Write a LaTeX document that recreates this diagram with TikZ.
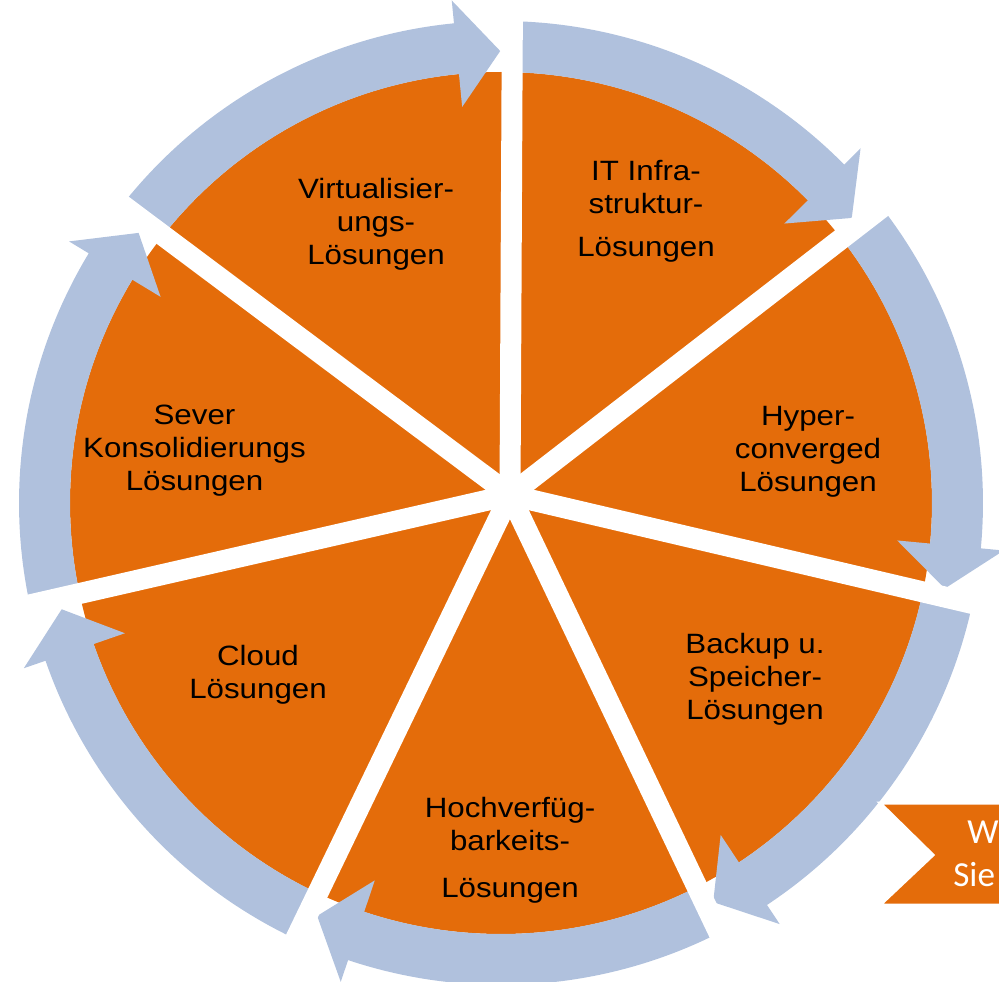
\documentclass[tikz,border=0pt]{standalone}
\usepackage{fontspec}
\setmainfont{Liberation Sans}
\newfontfamily\bannerfont{Carlito}
\usepackage{xcolor}
\usepackage{tikz}
\usetikzlibrary{calc}
\definecolor{zyk_orange}{HTML}{E46C0A}
\definecolor{zyk_blau}{HTML}{B0C1DD}
\tikzset{
  scheibe/.style = {fill=zyk_orange},% orange Scheibe, 7 Segmente
  ring_pf/.style = {fill=zyk_blau},% blauer Pfeil aussen
  spalt/.style = {draw=white, line width=4.2mm},% weisse Trennlinie
  beschr/.style = {align=center, inner sep=0pt, text=black, xscale=1.12,
    font=\fontsize{15.9}{18.7}\selectfont},% Text im Segment
  banner_n/.style = {fill=zyk_orange, draw=white, line width=0.6mm},% Pfeilband rechts unten
  banner_t/.style = {inner sep=0pt, anchor=base west, text=white,
    font=\bannerfont\fontsize{20}{24}\selectfont}
}

\begin{document}
\begin{tikzpicture}[x=0.2mm,y=0.2mm]
\useasboundingbox (-501,-478) rectangle (498,503);
\coordinate (O) at (0,0);
\coordinate (G) at (9,8);

\fill[scheibe] (O) circle[radius=431];

% Pfeile im Uhrzeigersinn, von Spalt zu Spalt
\foreach \a/\b in {142/88.8, 88.8/37.8, 37.8/-12.2, -12.2/-63.3,
                   -63.3/-115.3, -115.3/-167.7, -167.7/-218}{
  \pgfmathsetmacro\spitze{\b+1.3}
  \pgfmathsetmacro\basis{\spitze+5.5}
  \fill[ring_pf] (\a:431) -- (\a:482)
    arc[start angle=\a, end angle=\basis, radius=482]
    -- (\basis:505) -- (\spitze:452) -- (\basis:398) -- (\basis:431)
    arc[start angle=\basis, end angle=\a, radius=431] -- cycle;
}

% Trennlinien
\foreach \g in {88.8, 37.8, -12.2, -63.3, -115.3, -167.7, 142}
  \draw[spalt] (G) -- (\g:560);

\node[beschr] (virt) at (-125,278.5) {Virtualisier-\\ungs-\\Lösungen};
\node[beschr] (infra) at (145,292) {IT Infra-\\struktur-\\[2mm]Lösungen};
\node[beschr] (hyper) at (307,51) {Hyper-\\converged\\Lösungen};
\node[beschr] (backup) at (254,-176.5) {Backup u.\\Speicher-\\Lösungen};
\node[beschr] (hoch) at (9,-347) {Hochverfüg-\\barkeits-\\[2.8mm]Lösungen};
\node[beschr] (cloud) at (-243,-171.5) {Cloud\\Lösungen};
\node[beschr] (sever) at (-306.5,52.5) {Sever\\Konsolidierungs\\Lösungen};

% angeschnittenes Band rechts unten
\filldraw[banner_n] (379,-300) -- (520,-300) -- (520,-402) -- (379,-402)
  -- (432,-352) -- cycle;
\node[banner_t] (ban_w) at (466,-340) {W};
\node[banner_t] (ban_s) at (452,-383) {Sie};
\end{tikzpicture}
\end{document}
